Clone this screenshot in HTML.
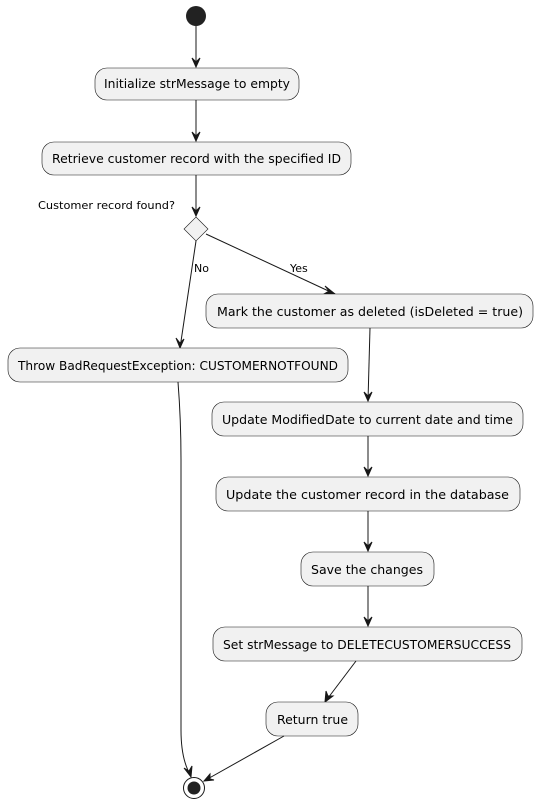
<!DOCTYPE html>
<html><head><meta charset="utf-8"><style>
html,body{margin:0;padding:0;background:#fff;}
svg{display:block;}
text{font-family:"DejaVu Sans","Liberation Sans",sans-serif;fill:#000;}
.b{fill:#f1f1f1;stroke:#181818;stroke-width:0.6;}
.l{stroke:#181818;stroke-width:1;fill:none;}
.a{fill:#181818;stroke:#181818;stroke-width:1;}
</style></head><body>
<svg width="537" height="804" viewBox="0 0 537 804" xmlns="http://www.w3.org/2000/svg">
<circle cx="196" cy="16" r="10" fill="#222"/>
<!-- start -> box1 -->
<line class="l" x1="196" y1="26" x2="196" y2="67"/>
<polygon class="a" points="192,58 196,67 200,58 196,62"/>
<rect class="b" x="95" y="68" width="204" height="32" rx="12"/>
<text x="104" y="88" font-size="12" textLength="186" lengthAdjust="spacingAndGlyphs">Initialize strMessage to empty</text>
<line class="l" x1="196" y1="100" x2="196" y2="141"/>
<polygon class="a" points="192,132 196,141 200,132 196,136"/>
<rect class="b" x="42" y="142" width="309" height="33" rx="12"/>
<text x="52" y="163" font-size="12" textLength="289" lengthAdjust="spacingAndGlyphs">Retrieve customer record with the specified ID</text>
<line class="l" x1="196" y1="175" x2="196" y2="216"/>
<polygon class="a" points="192,207 196,216 200,207 196,211"/>
<text x="38" y="209" font-size="11" textLength="137" lengthAdjust="spacingAndGlyphs">Customer record found?</text>
<polygon points="196,217 208,229 196,241 184,229" fill="#f1f1f1" stroke="#181818" stroke-width="0.6"/>
<!-- No -->
<line class="l" x1="196" y1="241" x2="180" y2="348"/>
<polygon class="a" points="176,338 180,348 184,339 180,343"/>
<text x="194" y="272" font-size="11">No</text>
<!-- Yes -->
<line class="l" x1="206" y1="234" x2="335" y2="294"/>
<polygon class="a" points="325,286 335,294 324,294 329,291"/>
<text x="290" y="272" font-size="11">Yes</text>
<rect class="b" x="206" y="294" width="327" height="34" rx="12"/>
<text x="217" y="316" font-size="12" textLength="306" lengthAdjust="spacingAndGlyphs">Mark the customer as deleted (isDeleted = true)</text>
<rect class="b" x="8" y="348" width="340" height="34" rx="12"/>
<text x="18" y="370" font-size="12" textLength="320" lengthAdjust="spacingAndGlyphs">Throw BadRequestException: CUSTOMERNOTFOUND</text>
<!-- mark -> update -->
<line class="l" x1="370" y1="328" x2="368" y2="401"/>
<polygon class="a" points="364,392 368,401 372,392 368,396"/>
<rect class="b" x="212" y="402" width="311" height="34" rx="12"/>
<text x="222" y="424" font-size="12" textLength="291" lengthAdjust="spacingAndGlyphs">Update ModifiedDate to current date and time</text>
<line class="l" x1="368" y1="436" x2="368" y2="476"/>
<polygon class="a" points="364,467 368,476 372,467 368,471"/>
<rect class="b" x="216" y="477" width="304" height="34" rx="12"/>
<text x="226" y="499" font-size="12" textLength="283" lengthAdjust="spacingAndGlyphs">Update the customer record in the database</text>
<line class="l" x1="368" y1="511" x2="368" y2="551"/>
<polygon class="a" points="364,542 368,551 372,542 368,546"/>
<rect class="b" x="301" y="552" width="133" height="34" rx="12"/>
<text x="311" y="574" font-size="12" textLength="112" lengthAdjust="spacingAndGlyphs">Save the changes</text>
<line class="l" x1="368" y1="586" x2="368" y2="626"/>
<polygon class="a" points="364,617 368,626 372,617 368,621"/>
<rect class="b" x="213" y="627" width="309" height="34" rx="12"/>
<text x="223" y="649" font-size="12" textLength="288" lengthAdjust="spacingAndGlyphs">Set strMessage to DELETECUSTOMERSUCCESS</text>
<line class="l" x1="356" y1="661" x2="325" y2="702"/>
<polygon class="a" points="326,691 325,702 333,696 328,696"/>
<rect class="b" x="266" y="702" width="92" height="34" rx="12"/>
<text x="277" y="724" font-size="12" textLength="71" lengthAdjust="spacingAndGlyphs">Return true</text>
<!-- return -> end -->
<line class="l" x1="284" y1="736" x2="204" y2="781"/>
<polygon class="a" points="210,774 204,781 214,780 210,779"/>
<!-- throw -> end -->
<path class="l" d="M178,382 Q181,420 181,460 L181,730 Q181,760 191,776"/>
<polygon class="a" points="184,768 191,777 192,766 189,771"/>
<circle cx="194" cy="788" r="10.5" fill="#fff" stroke="#181818" stroke-width="1"/>
<circle cx="194" cy="788" r="6.5" fill="#222"/>
</svg>
</body></html>
